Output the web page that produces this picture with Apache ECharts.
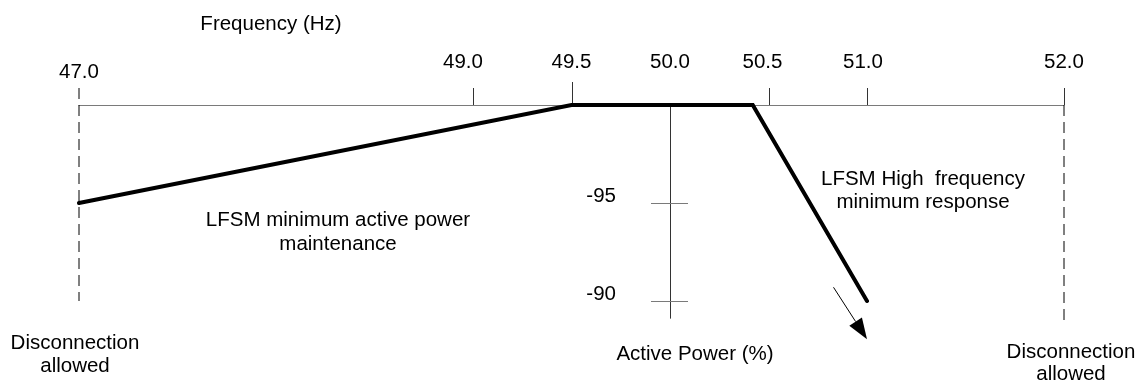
<!DOCTYPE html>
<html>
<head>
<meta charset="utf-8">
<script src="https://cdn.jsdelivr.net/npm/echarts@6/dist/echarts.min.js"></script>
<style>
html,body{margin:0;padding:0;background:#fff;}
#chart{width:1146px;height:383px;}
</style>
</head>
<body>
<div id="chart"></div>
<script>
// ---- data ----
const curveFreq = [47.0, 49.5, 50.42, 51.0];
const curvePower = [-95, -100, -100, -90];
const freqTickValues = [49.0, 49.5, 50.5, 51.0, 52.0];
const freqLabelValues = [47.0, 49.0, 49.5, 50.0, 50.5, 51.0, 52.0];
const freqLabels = ['47.0', '49.0', '49.5', '50.0', '50.5', '51.0', '52.0'];
const powerTickValues = [-95, -90];
const powerLabels = ['-95', '-90'];
const powerAxisFreq = 50.0;
const powerAxisRange = [-100, -89.1];
const dashedFreq = [47.0, 52.0];
const dashedBottom = [-90, -88.8];
const arrowFrom = [50.83, -90.7];
const arrowTo = [51.0, -88.05];

// ---- styles (not data) ----
const FONT = 'Liberation Sans, Arial, sans-serif';
const FS = 20.5;
const AXIS_GRAY = '#7a7a7a';
const labelNudge = {49: -10, 50.5: -6, 51: -4};
const tickLen = {49.5: 23};

const chart = echarts.init(document.getElementById('chart'), null, {renderer: 'canvas'});

const curveData = curveFreq.map((f, i) => [f, curvePower[i]]);

const option = {
  animation: false,
  backgroundColor: '#ffffff',
  grid: {left: 79, right: 82, top: 105, bottom: 42.8},
  xAxis: {
    type: 'value', position: 'top', min: 47, max: 52,
    axisLine: {show: true, lineStyle: {color: AXIS_GRAY, width: 1}},
    axisTick: {show: false}, axisLabel: {show: false}, splitLine: {show: false}
  },
  yAxis: {
    type: 'value', inverse: true, min: -100, max: -88, show: false,
    splitLine: {show: false}
  },
  series: [
    // dashed disconnection lines
    {
      type: 'custom', z: 2, silent: true, clip: false,
      data: dashedFreq.map((f, i) => [f, dashedBottom[i]]),
      renderItem: function (params, api) {
        const f = api.value(0);
        const bottom = api.coord([f, api.value(1)]);
        const top = api.coord([f, -100]);
        const y0 = f === 47 ? top[1] - 17 : top[1];
        return {
          type: 'line',
          shape: {x1: bottom[0], y1: y0, x2: bottom[0], y2: bottom[1]},
          style: {stroke: '#000', lineWidth: 1, lineDash: [11, 6]}
        };
      }
    },
    // frequency axis ticks
    {
      type: 'custom', z: 2, silent: true, clip: false,
      data: freqTickValues.map(v => [v]),
      renderItem: function (params, api) {
        const v = api.value(0);
        const p = api.coord([v, -100]);
        const len = tickLen[v] || 17;
        return {
          type: 'line',
          shape: {x1: Math.round(p[0]) + 0.5, y1: p[1] - len, x2: Math.round(p[0]) + 0.5, y2: p[1]},
          style: {stroke: '#333', lineWidth: 1}
        };
      }
    },
    // frequency labels
    {
      type: 'custom', z: 3, silent: true, clip: false,
      data: freqLabelValues.map((v, i) => [v, i]),
      renderItem: function (params, api) {
        const v = api.value(0);
        const i = api.value(1);
        const p = api.coord([v, -100]);
        const dy = v === 47 ? 33 : 43;
        return {
          type: 'text',
          style: {
            text: freqLabels[i], x: p[0] + (labelNudge[v] || 0), y: p[1] - dy,
            align: 'center', verticalAlign: 'middle',
            fontSize: FS, fontFamily: FONT, fill: '#000'
          }
        };
      }
    },
    // power axis line
    {
      type: 'custom', z: 2, silent: true, clip: false,
      data: [[powerAxisFreq, powerAxisRange[0], powerAxisRange[1]]],
      renderItem: function (params, api) {
        const a = api.coord([api.value(0), api.value(1)]);
        const b = api.coord([api.value(0), api.value(2)]);
        return {
          type: 'line',
          shape: {x1: Math.round(a[0]) + 0.5, y1: a[1], x2: Math.round(b[0]) + 0.5, y2: b[1]},
          style: {stroke: '#333', lineWidth: 1}
        };
      }
    },
    // power ticks + labels
    {
      type: 'custom', z: 2, silent: true, clip: false,
      data: powerTickValues.map((v, i) => [powerAxisFreq, v, i]),
      renderItem: function (params, api) {
        const p = api.coord([api.value(0), api.value(1)]);
        const i = api.value(2);
        const y = Math.round(p[1]) + 0.5;
        return {
          type: 'group',
          children: [
            {type: 'line', shape: {x1: p[0] - 19, y1: y, x2: p[0] + 18, y2: y},
             style: {stroke: AXIS_GRAY, lineWidth: 1}},
            {type: 'text', style: {
              text: powerLabels[i], x: p[0] - 54, y: p[1] - 7,
              align: 'right', verticalAlign: 'middle',
              fontSize: FS, fontFamily: FONT, fill: '#000'}}
          ]
        };
      }
    },
    // main curve
    {
      type: 'line', z: 5, silent: true,
      data: curveData,
      symbol: 'none',
      lineStyle: {color: '#000', width: 4, cap: 'round', join: 'miter'}
    },
    // arrow
    {
      type: 'custom', z: 5, silent: true, clip: false,
      data: [[arrowFrom[0], arrowFrom[1], arrowTo[0], arrowTo[1]]],
      renderItem: function (params, api) {
        const a = api.coord([api.value(0), api.value(1)]);
        const b = api.coord([api.value(2), api.value(3)]);
        const dx = b[0] - a[0], dy = b[1] - a[1];
        const L = Math.sqrt(dx * dx + dy * dy);
        const ux = dx / L, uy = dy / L;
        const hl = 21, hw = 7.5;
        const bx = b[0] - ux * hl, by = b[1] - uy * hl;
        return {
          type: 'group',
          children: [
            {type: 'line', shape: {x1: a[0], y1: a[1], x2: bx, y2: by},
             style: {stroke: '#000', lineWidth: 1}},
            {type: 'polygon', shape: {points: [
              [b[0], b[1]],
              [bx - uy * hw, by + ux * hw],
              [bx + uy * hw, by - ux * hw]
            ]}, style: {fill: '#000'}}
          ]
        };
      }
    }
  ],
  graphic: [
    {type: 'text', x: 271, y: 24, style: {text: 'Frequency (Hz)', align: 'center', verticalAlign: 'middle', fontSize: FS, fontFamily: FONT, fill: '#000'}},
    {type: 'text', x: 338, y: 232, style: {text: 'LFSM minimum active power\nmaintenance', align: 'center', verticalAlign: 'middle', lineHeight: 24, fontSize: FS, fontFamily: FONT, fill: '#000'}},
    {type: 'text', x: 923, y: 190.5, style: {text: 'LFSM High  frequency\nminimum response', align: 'center', verticalAlign: 'middle', lineHeight: 23, fontSize: FS, fontFamily: FONT, fill: '#000'}},
    {type: 'text', x: 695, y: 354, style: {text: 'Active Power (%)', align: 'center', verticalAlign: 'middle', fontSize: FS, fontFamily: FONT, fill: '#000'}},
    {type: 'text', x: 75, y: 354.5, style: {text: 'Disconnection\nallowed', align: 'center', verticalAlign: 'middle', lineHeight: 23, fontSize: FS, fontFamily: FONT, fill: '#000'}},
    {type: 'text', x: 1071, y: 363, style: {text: 'Disconnection\nallowed', align: 'center', verticalAlign: 'middle', lineHeight: 22, fontSize: FS, fontFamily: FONT, fill: '#000'}}
  ]
};
chart.setOption(option);
</script>
</body>
</html>
